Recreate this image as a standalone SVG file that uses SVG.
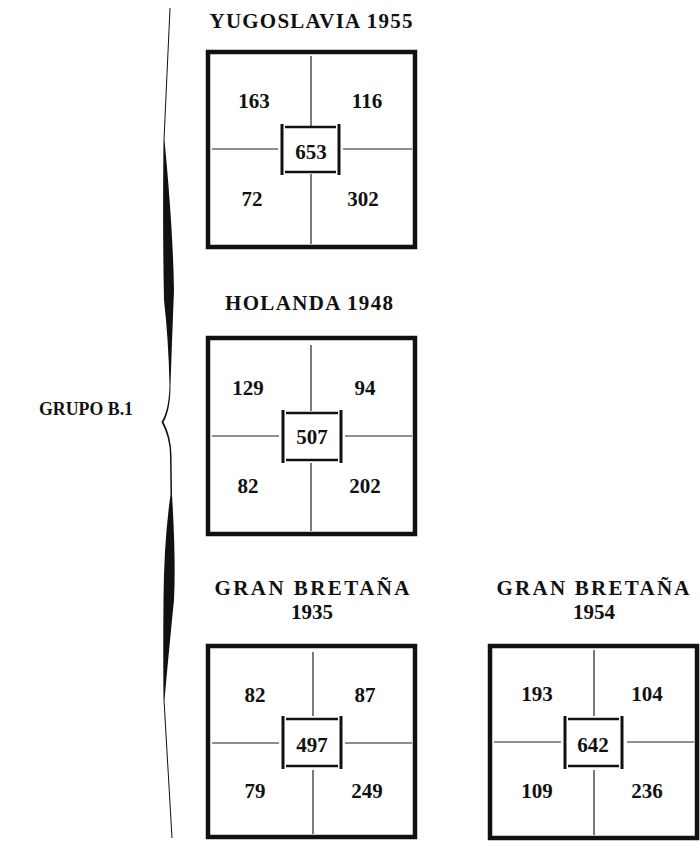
<svg xmlns="http://www.w3.org/2000/svg" width="700" height="841" viewBox="0 0 700 841">
<style>
  .t{font-family:"Liberation Serif","Times New Roman",serif;font-weight:bold;font-size:21px;fill:#111;text-anchor:middle}
  .n{font-family:"Liberation Serif","Times New Roman",serif;font-weight:bold;font-size:21px;fill:#111;text-anchor:middle}
  .o{stroke:#111;stroke-width:4.5;fill:none}
  .d{stroke:#222;stroke-width:1.2;fill:none}
  .cv{stroke:#111;stroke-width:3;fill:none}
  .ch{stroke:#111;stroke-width:2.5;fill:none}
</style>
<rect width="700" height="841" fill="#fff"/>

<g id="brace">
  <path d="M170.5,8 L164.5,140 Q173,230 174,290 Q172,340 170.5,385 Q170.5,410 163.5,422 Q171,436 171.5,455 L172,495 Q176,560 174,600 Q168,660 164.5,700 L172.5,838 L171.5,838 L163.5,700 Q163,650 163.5,600 Q164,540 170.5,495 L170,455 Q170,438 161.5,422 Q169,410 169.5,385 Q168.5,340 164,300 Q162.5,230 163.5,140 L169.5,8 Z" fill="#111"/>
  <text class="t" x="86" y="415" style="font-size:19px" textLength="94" lengthAdjust="spacingAndGlyphs">GRUPO B.1</text>
</g>

<g id="yugoslavia-1955">
  <text class="t" x="311" y="28" textLength="203" lengthAdjust="spacing">YUGOSLAVIA 1955</text>
  <rect class="o" x="208" y="52" width="207" height="195"/>
  <line class="d" x1="311" y1="56" x2="311" y2="126"/>
  <line class="d" x1="311" y1="174" x2="311" y2="244"/>
  <line class="d" x1="212" y1="149" x2="278" y2="149"/>
  <line class="d" x1="343" y1="149" x2="412" y2="149"/>
  <line class="cv" x1="282" y1="124" x2="282" y2="175"/>
  <line class="cv" x1="339" y1="124" x2="339" y2="175"/>
  <line class="ch" x1="285" y1="127" x2="336" y2="127"/>
  <line class="ch" x1="285" y1="172" x2="336" y2="172"/>
  <text class="n" x="254" y="108">163</text>
  <text class="n" x="367" y="108">116</text>
  <text class="n" x="311" y="159">653</text>
  <text class="n" x="252" y="206">72</text>
  <text class="n" x="363" y="206">302</text>
</g>

<g id="holanda-1948">
  <text class="t" x="309" y="310" textLength="168" lengthAdjust="spacing">HOLANDA 1948</text>
  <rect class="o" x="208" y="338" width="207" height="196"/>
  <line class="d" x1="311" y1="345" x2="311" y2="411"/>
  <line class="d" x1="311" y1="463" x2="311" y2="531"/>
  <line class="d" x1="212" y1="436" x2="279" y2="436"/>
  <line class="d" x1="345" y1="436" x2="412" y2="436"/>
  <line class="cv" x1="283" y1="410" x2="283" y2="463"/>
  <line class="cv" x1="341" y1="410" x2="341" y2="463"/>
  <line class="ch" x1="286" y1="413" x2="338" y2="413"/>
  <line class="ch" x1="286" y1="460" x2="338" y2="460"/>
  <text class="n" x="248" y="395">129</text>
  <text class="n" x="365" y="395">94</text>
  <text class="n" x="312" y="444">507</text>
  <text class="n" x="248" y="493">82</text>
  <text class="n" x="365" y="493">202</text>
</g>

<g id="gran-bretana-1935">
  <text class="t" x="312" y="595" textLength="195" lengthAdjust="spacing">GRAN BRETAÑA</text>
  <text class="t" x="312" y="619">1935</text>
  <rect class="o" x="208" y="646" width="207" height="191"/>
  <line class="d" x1="313" y1="652" x2="313" y2="716"/>
  <line class="d" x1="313" y1="770" x2="313" y2="834"/>
  <line class="d" x1="212" y1="743" x2="279" y2="743"/>
  <line class="d" x1="345" y1="743" x2="412" y2="743"/>
  <line class="cv" x1="283" y1="716" x2="283" y2="769"/>
  <line class="cv" x1="341" y1="716" x2="341" y2="769"/>
  <line class="ch" x1="286" y1="719" x2="338" y2="719"/>
  <line class="ch" x1="286" y1="766" x2="338" y2="766"/>
  <text class="n" x="255" y="702">82</text>
  <text class="n" x="365" y="702">87</text>
  <text class="n" x="312" y="752">497</text>
  <text class="n" x="255" y="798">79</text>
  <text class="n" x="367" y="798">249</text>
</g>

<g id="gran-bretana-1954">
  <text class="t" x="593" y="595" textLength="193" lengthAdjust="spacing">GRAN BRETAÑA</text>
  <text class="t" x="594" y="619">1954</text>
  <rect class="o" x="490" y="646" width="207" height="192"/>
  <line class="d" x1="594" y1="650" x2="594" y2="716"/>
  <line class="d" x1="594" y1="770" x2="594" y2="835"/>
  <line class="d" x1="494" y1="742" x2="561" y2="742"/>
  <line class="d" x1="627" y1="742" x2="694" y2="742"/>
  <line class="cv" x1="565" y1="716" x2="565" y2="769"/>
  <line class="cv" x1="622" y1="716" x2="622" y2="769"/>
  <line class="ch" x1="568" y1="719" x2="619" y2="719"/>
  <line class="ch" x1="568" y1="766" x2="619" y2="766"/>
  <text class="n" x="537" y="701">193</text>
  <text class="n" x="647" y="701">104</text>
  <text class="n" x="593" y="752">642</text>
  <text class="n" x="537" y="798">109</text>
  <text class="n" x="647" y="798">236</text>
</g>

<g id="connectors"></g>
</svg>
